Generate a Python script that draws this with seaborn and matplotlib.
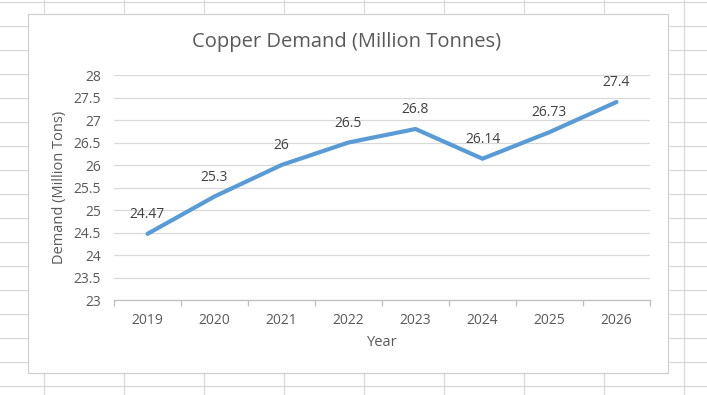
import matplotlib
matplotlib.use("Agg")
import matplotlib.pyplot as plt
import seaborn as sns
import pandas as pd
from matplotlib.lines import Line2D
from matplotlib.patches import Rectangle
from matplotlib.ticker import FixedLocator

years = ["2019", "2020", "2021", "2022", "2023", "2024", "2025", "2026"]
demand = [24.47, 25.3, 26.0, 26.5, 26.8, 26.14, 26.73, 27.4]
labels = ["24.47", "25.3", "26", "26.5", "26.8", "26.14", "26.73", "27.4"]
yticks = [23, 23.5, 24, 24.5, 25, 25.5, 26, 26.5, 27, 27.5, 28]
ytick_labels = ["23", "23.5", "24", "24.5", "25", "25.5", "26", "26.5", "27", "27.5", "28"]

sns.set_theme(style="white")
plt.rcParams["font.family"] = ["Open Sans", "DejaVu Sans"]

W, H = 707, 395
fig = plt.figure(figsize=(W / 100, H / 100), dpi=100)
fig.patch.set_facecolor("white")

grid_c = "#DADADA"
# spreadsheet background grid
for x in range(44, W, 80):
    fig.add_artist(Line2D([x / W, x / W], [0, 1], color=grid_c, lw=0.9, zorder=0))
for y in range(2, H, 24):
    fig.add_artist(Line2D([0, 1], [1 - y / H, 1 - y / H], color=grid_c, lw=0.9, zorder=0))

# chart box
fig.add_artist(Rectangle((28 / W, 1 - 373 / H), (668 - 28) / W, (373 - 14) / H,
                         facecolor="white", edgecolor="#D0D0D0", lw=0.9, zorder=1))

L, R, T, B = 114, 650, 75, 300
ax = fig.add_axes([L / W, 1 - B / H, (R - L) / W, (B - T) / H], zorder=2)
ax.set_facecolor("none")

df = pd.DataFrame({"Year": years, "Demand": demand})
sns.lineplot(data=df, x="Year", y="Demand", ax=ax, color="#5B9BD5", lw=3, sort=False)

txt = "#595959"
for i, (v, lab) in enumerate(zip(demand, labels)):
    ax.annotate(lab, (i, v), xytext=(0, 14), textcoords="offset points",
                ha="center", va="center", fontsize=10, color="#404040")

ax.set_xlim(-0.5, len(years) - 0.5)
ax.set_ylim(23, 28)
ax.set_yticks(yticks)
ax.set_yticklabels(ytick_labels)
ax.yaxis.grid(True, color="#D9D9D9", lw=0.9)
ax.set_axisbelow(True)
ax.set_xticks(range(len(years)))
ax.set_xticklabels(years)
ax.xaxis.set_minor_locator(FixedLocator([i - 0.5 for i in range(len(years) + 1)]))
ax.tick_params(axis="x", which="major", length=0, pad=9, labelsize=10, labelcolor=txt)
ax.tick_params(axis="x", which="minor", length=4, width=0.9, color="#BFBFBF", bottom=True)
ax.tick_params(axis="y", length=0, pad=9.5, labelsize=10, labelcolor=txt)
for s in ["top", "right", "left"]:
    ax.spines[s].set_visible(False)
ax.spines["bottom"].set_color("#BFBFBF")
ax.spines["bottom"].set_linewidth(0.9)

ax.set_xlabel("Year", fontsize=10.5, color=txt)
ax.set_ylabel("Demand (Million Tons)", fontsize=10.5, color=txt)
ax.xaxis.label.set_va("center")
ax.yaxis.label.set_va("center")
ax.xaxis.set_label_coords(0.5, (B - 343) / (B - T))
ax.yaxis.set_label_coords((60 - L) / (R - L), 0.5)

fig.text(347 / W, 1 - 42 / H, "Copper Demand (Million Tonnes)", ha="center", va="center",
         fontsize=14.5, color=txt)

fig.savefig("out.png", dpi=100)
